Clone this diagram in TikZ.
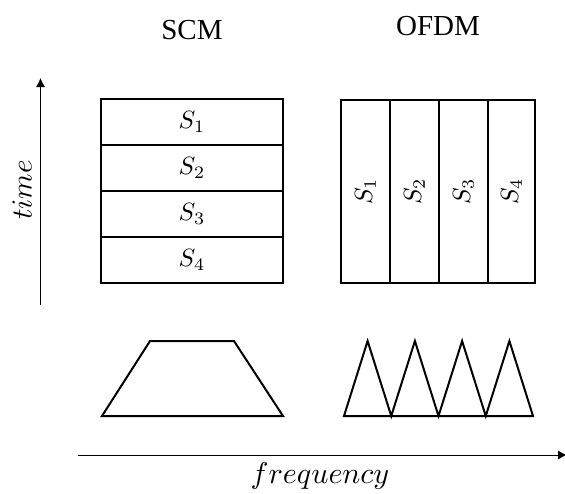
\documentclass[tikz,border=0pt]{standalone}
\usepackage{fontspec}
\newfontfamily\timesfont{Liberation Serif}
\usetikzlibrary{arrows.meta}
\newcommand{\bigmath}[2]{\scalebox{#1}{$#2$}}
\tikzset{
  cell/.style={draw, line width=1.3pt, inner sep=0pt},
  spectrum/.style={line width=2pt, line join=miter},
  axis/.style={line width=0.9pt, -{Latex[length=9pt,width=9pt]}},
  title/.style={font=\timesfont\fontsize{29}{32}\selectfont},
}
\begin{document}
\begin{tikzpicture}[x=1pt,y=-1pt]
\useasboundingbox (0,0) rectangle (565,493);
% titles
\node[title] (scm) at (192,30) {SCM};
\node[title] (ofdm) at (438,26) {OFDM};
% SCM stack
\foreach \i/\yc in {1/122,2/168,3/214,4/260}{
  \node[cell, minimum width=182pt, minimum height=46pt] (s\i) at (192,\yc) {\bigmath{2.5}{S_\i}};
}
% OFDM columns
\foreach \i/\xc/\w in {1/365.5/49,2/414.5/49,3/463.5/49,4/511.5/47}{
  \node[cell, minimum width=\w pt, minimum height=183pt] (o\i) at (\xc,191.5) {\rotatebox{90}{\bigmath{2.5}{S_\i}}};
}
% time axis
\coordinate (t0) at (40.5,305);
\coordinate (t1) at (40.5,78);
\draw[axis] (t0) -- (t1);
\node[rotate=90] (tl) at (22,190) {\bigmath{2.9}{time}};
% frequency axis
\coordinate (f0) at (78,455);
\coordinate (f1) at (567,455);
\draw[axis] (f0) -- (f1);
\node (fl) at (320,476) {\bigmath{3.0}{frequency}};
% SCM spectrum
\draw[spectrum] (102,416) -- (150,341) -- (234,341) -- (283,416) -- cycle;
% OFDM spectrum
\draw[spectrum] (344,416) -- (367.6,341) -- (391.25,416) -- (414.9,341) -- (438.5,416)
  -- (462.1,341) -- (485.75,416) -- (509.4,341) -- (533,416) -- cycle;
\end{tikzpicture}
\end{document}
